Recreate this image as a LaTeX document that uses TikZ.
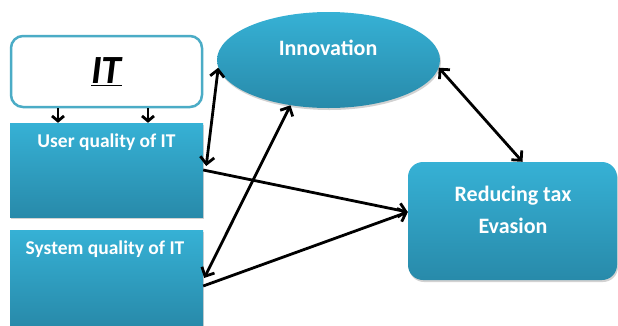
\documentclass[tikz,border=0pt]{standalone}
\usepackage{fontspec}
\setmainfont{Carlito}
\usetikzlibrary{arrows.meta,shapes.geometric,calc,shadows}
\definecolor{cyTop}{RGB}{54,177,213}
\definecolor{cyBot}{RGB}{40,138,170}
\definecolor{cyLine}{RGB}{75,172,198}
\tikzset{
  cybox/.style={rectangle, minimum width=193pt, minimum height=94pt, inner sep=0pt,
    top color=cyTop, bottom color=cyBot, draw=none,
    drop shadow={shadow xshift=1pt,shadow yshift=-2pt,opacity=0.35,fill=gray}},
  wtxt/.style={text=white, font=\bfseries\fontsize{19.5}{22}\selectfont},
  barb/.tip={Straight Barb[length=7pt,width=14pt,line width=2.8pt]},
  conn/.style={line width=2.8pt, black, barb-barb},
  oneway/.style={line width=2.8pt, black, -barb},
  down/.style={line width=2.8pt, black, -{Straight Barb[length=5pt,width=12pt,line width=2.8pt]}},
}
\begin{document}
\begin{tikzpicture}[x=1pt,y=-1pt]
\useasboundingbox[fill=white] (0,0) rectangle (618,325);
% IT box
\node[draw=cyLine, line width=2.5pt, fill=white, rounded corners=12pt,
  minimum width=191pt, minimum height=71pt] (it) at (106.5,71.5)
  {\fontsize{40}{44}\selectfont\bfseries\itshape\underline{IT}};
% User quality
\node[cybox] (user) at (106.5,170) {};
\node[wtxt, anchor=center] (usertxt) at (106.5,142) {User quality of IT};
% System quality
\node[cybox, minimum height=96pt] (sys) at (106.5,278) {};
\node[wtxt, anchor=center] (systxt) at (105,249) {System quality of IT};
% Innovation
\node[ellipse, minimum width=223pt, minimum height=96pt, inner sep=0pt,
  top color=cyTop, bottom color=cyBot,
  drop shadow={shadow xshift=1pt,shadow yshift=-2pt,opacity=0.35,fill=gray}] (innov) at (328.5,60) {};
\node[text=white, font=\bfseries\fontsize{22}{26}\selectfont] (innovtxt) at (328,48) {Innovation};
% Reducing tax evasion
\node[rectangle, rounded corners=15pt, minimum width=209pt, minimum height=118pt, inner sep=0pt,
  top color=cyTop, bottom color=cyBot,
  drop shadow={shadow xshift=1pt,shadow yshift=-2pt,opacity=0.35,fill=gray}] (red) at (512.5,221) {};
\node[text=white, font=\bfseries\fontsize{22}{32}\selectfont, align=center] (redtxt) at (513,210)
  {Reducing tax\\Evasion};
% arrows IT -> user
\draw[down] ([xshift=-48.5pt]it.south) -- ([xshift=-48.5pt]user.north);
\draw[down] ([xshift=41.5pt]it.south) -- ([xshift=41.5pt]user.north);
% connectors
\draw[conn] ([yshift=4pt,xshift=3pt]user.east) -- (innov.184);
\draw[conn] ([xshift=1pt]sys.east) -- (innov.230);
\draw[conn] (innov.356) -- ([xshift=10pt]red.north);
\draw[oneway] (user.east) -- ([yshift=9pt]red.west);
\draw[oneway] ([yshift=-8pt]sys.east) -- ([yshift=9pt]red.west);
\end{tikzpicture}
\end{document}
